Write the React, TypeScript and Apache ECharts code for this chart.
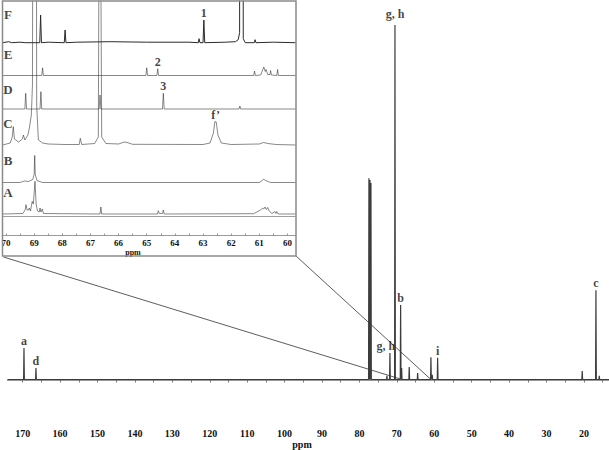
import React, { useEffect, useRef } from "react";
import * as echarts from "echarts";

// ---------- main spectrum (ppm, relative intensity; g,h = 100) ----------
const mainPeakPpm = [169.65, 166.45, 77.46, 77.19, 76.92, 72.65, 71.85, 70.5, 68.99, 68.72, 66.69, 64.44, 60.89, 60.54, 59.1, 20.46, 16.79, 15.9];
const mainPeakHeight = [8.9, 3.2, 56.8, 56.3, 55.4, 1.0, 7.5, 100, 21.0, 3.2, 3.5, 1.8, 6.3, 1.3, 6.1, 2.4, 25.2, 1.0];
const mainLabelNames = ["a", "d", "g, h", "g, h", "b", "i", "c"];
const mainLabelPpm = [169.65, 166.45, 71.85, 70.5, 68.99, 59.1, 16.79];
const mainLabelHeight = [8.9, 3.2, 7.5, 100, 21.0, 6.1, 25.2];
const mainTickLabels = [170, 160, 150, 140, 130, 120, 110, 100, 90, 80, 70, 60, 50, 40, 30, 20];
const mainTicks = [170, 165, 160, 155, 150, 145, 140, 135, 130, 125, 120, 115, 110, 105, 100, 95, 90, 85, 80, 75, 70, 65, 60, 55, 50, 45, 40, 35, 30, 25, 20, 15];

// ---------- inset traces, 70-60 ppm: [ppm, intensity] ----------
const traceF = [[70.12, 0], [69.9, 1], [69.8, 0], [69.5, 0.5], [69.3, 0], [68.8, 0], [68.77, 27.7], [68.74, 0], [68.5, 0.5], [67.93, 0], [67.9, 12.7], [67.87, 0], [67.5, 0.5], [66.3, 1], [65.0, 0.5], [63.5, 0.5], [63.17, 0], [63.14, 4], [63.11, 0], [63.0, 0], [62.97, 22.7], [62.94, 0], [62.2, 0.5], [61.85, 1], [61.75, 3], [61.7, 10], [61.69, 400], [61.59, 400], [61.57, 4], [61.5, 0], [61.18, 0], [61.15, 3], [61.12, 0], [60.5, 0.5], [59.71, 0]];
const traceE = [[70.12, 0], [68.73, 0], [68.7, 7.7], [68.67, 0], [65.03, 0], [65.0, 7.7], [64.97, 0], [64.64, 0], [64.61, 6.7], [64.58, 0], [61.2, 0], [61.17, 4.5], [61.14, 0], [60.95, 0.5], [60.84, 8.5], [60.79, 4], [60.76, 6], [60.7, 1], [60.62, 1], [60.6, 5], [60.57, 0.5], [60.38, 0], [60.35, 6], [60.32, 0], [59.71, 0]];
const traceD = [[70.12, 0], [69.33, 0], [69.3, 15.7], [69.27, 0], [68.79, 0], [68.76, 17.3], [68.73, 0], [66.69, 0], [66.66, 14], [66.63, 0], [64.44, 0], [64.41, 15.7], [64.38, 0], [61.72, 0], [61.69, 3], [61.66, 0], [59.71, 0]];
const traceC = [[70.12, 0], [69.85, 2], [69.78, 8], [69.74, 18.3], [69.7, 6], [69.55, 3], [69.42, 6], [69.38, 10], [69.33, 5], [69.22, 10], [69.17, 17], [69.1, 30], [69.06, 60], [69.04, 400], [68.93, 400], [68.91, 40], [68.85, 5], [68.7, 2], [68.5, 1], [67.9, 0.5], [67.4, 0.5], [67.36, 6.7], [67.31, 0.5], [66.85, 1.5], [66.72, 8], [66.67, 400], [66.6, 8], [66.45, 1.5], [66.0, 1], [65.85, 2.5], [65.78, 3], [65.7, 2.5], [65.5, 0.7], [63.0, 0.5], [62.75, 2], [62.63, 12], [62.58, 23.3], [62.53, 23], [62.47, 10], [62.35, 2], [62.0, 0.5], [61.0, 1], [60.85, 2.5], [60.7, 1.5], [60.4, 0.5], [59.71, 0]];
const traceB = [[70.12, 0], [69.5, 0], [69.35, 1.5], [69.2, 1], [69.05, 3], [69.0, 8], [68.98, 27], [68.96, 8], [68.9, 2], [68.7, 0], [61.0, 0], [60.88, 2.5], [60.84, 3.3], [60.78, 2], [60.6, 0], [59.71, 0]];
const traceA = [[70.12, 0], [69.4, 0.5], [69.32, 4], [69.29, 9.3], [69.25, 4], [69.2, 4], [69.17, 6], [69.13, 3], [69.07, 12.6], [69.03, 10], [68.97, 32.6], [68.93, 10], [68.88, 3], [68.82, 2], [68.79, 6], [68.76, 2], [68.71, 5], [68.67, 0.5], [68.0, 0.3], [66.66, 0], [66.63, 7], [66.6, 0], [64.62, 0], [64.59, 3.3], [64.55, 0.5], [64.44, 0.5], [64.41, 4], [64.38, 0], [61.2, 0.3], [61.09, 2], [60.95, 4], [60.88, 6], [60.84, 5], [60.8, 7], [60.75, 4.5], [60.7, 6.5], [60.65, 3], [60.55, 0.5], [60.45, 2.5], [60.41, 0.5], [60.38, 2.5], [60.33, 0], [59.71, 0]];
const traceNames = ["F", "E", "D", "C", "B", "A"];
const traces = [traceF, traceE, traceD, traceC, traceB, traceA];
const traceOffsets = [192.8, 160, 126.5, 90.5, 53, 21.5];
const traceNameRaise = [28.7, 21.5, 20, 22, 22.5, 22];
const insetLabelNames = ["1", "2", "3", "f\u2019"];
const insetLabelPpm = [62.97, 64.61, 64.41, 62.55];
const insetLabelTrace = [0, 1, 2, 3];
const insetLabelHeight = [22.7, 6.7, 15.7, 23.3];
const insetTickLabels = [70, 69, 68, 67, 66, 65, 64, 63, 62, 61, 60];
const insetTicks = [70, 69.5, 69, 68.5, 68, 67.5, 67, 66.5, 66, 65.5, 65, 64.5, 64, 63.5, 63, 62.5, 62, 61.5, 61, 60.5, 60];

const FONT = "Liberation Serif, Times New Roman, serif";

function buildMainData() {
  const w = 0.1;
  const idx = mainPeakPpm.map((_, i) => i).sort((a, b) => mainPeakPpm[b] - mainPeakPpm[a]);
  const d: number[][] = [[174, 0]];
  idx.forEach((i) => {
    d.push([mainPeakPpm[i] + w, 0], [mainPeakPpm[i], mainPeakHeight[i]], [mainPeakPpm[i] - w, 0]);
  });
  d.push([13.3, 0]);
  return d;
}

export default function App() {
  const ref = useRef<HTMLDivElement>(null);
  useEffect(() => {
    if (!ref.current) return;
    const chart = echarts.init(ref.current, null, { renderer: "svg" });
    const labelStyle = { fontFamily: FONT, fontWeight: "bold", color: "#111" };
    const series: any[] = [
      {
        type: "line",
        xAxisIndex: 0,
        yAxisIndex: 0,
        data: buildMainData(),
        symbol: "none",
        silent: true,
        lineStyle: { color: "#3c3c3c", width: 1.2 },
      },
      {
        type: "scatter",
        xAxisIndex: 0,
        yAxisIndex: 0,
        symbolSize: 0,
        silent: true,
        data: mainLabelNames.map((n, i) => ({
          name: n,
          value: [mainLabelPpm[i], mainLabelHeight[i]],
          label: n === "g, h" && mainLabelHeight[i] < 50 ? { offset: [-4, 0] } : n === "g, h" ? { distance: 5 } : {},
        })),
        label: { show: true, position: "top", distance: 1, formatter: "{b}", fontSize: 12, lineHeight: 12, ...labelStyle },
      },
    ];
    traces.forEach((t, k) => {
      series.push({
        type: "line",
        xAxisIndex: 1,
        yAxisIndex: 1,
        data: t.map((p) => [p[0], p[1] + traceOffsets[k]]),
        symbol: "none",
        silent: true,
        clip: true,
        lineStyle: k === 0 ? { color: "#2a2a2a", width: 1 } : { color: "rgba(40,40,40,0.55)", width: 1 },
      });
    });
    series.push({
      type: "line",
      xAxisIndex: 1,
      yAxisIndex: 1,
      data: [[70.12, 19], [59.71, 19]],
      symbol: "none",
      silent: true,
      lineStyle: { color: "rgba(40,40,40,0.45)", width: 1 },
    });
    series.push({
      type: "scatter",
      xAxisIndex: 1,
      yAxisIndex: 1,
      symbolSize: 0,
      silent: true,
      data: traceNames.map((n, k) => ({ name: n, value: [69.93, traceOffsets[k] + traceNameRaise[k]] })),
      label: { show: true, position: "inside", formatter: "{b}", fontSize: 13, lineHeight: 13, ...labelStyle },
    });
    series.push({
      type: "scatter",
      xAxisIndex: 1,
      yAxisIndex: 1,
      symbolSize: 0,
      silent: true,
      data: insetLabelNames.map((n, i) => ({
        name: n,
        value: [insetLabelPpm[i], traceOffsets[insetLabelTrace[i]] + insetLabelHeight[i]],
      })),
      label: { show: true, position: "top", distance: 1, formatter: "{b}", fontSize: 12, lineHeight: 12, ...labelStyle },
    });

    chart.setOption({
      animation: false,
      backgroundColor: "#fff",
      grid: [
        { left: 7.7, width: 601.3, top: 25, height: 394, containLabel: false, outerBoundsMode: "none" },
        { left: 2.62, width: 293, top: 1, height: 234.5, containLabel: false, outerBoundsMode: "none" },
      ],
      xAxis: [
        {
          type: "value",
          gridIndex: 0,
          min: 13.3,
          max: 174,
          inverse: true,
          splitLine: { show: false },
          axisLine: { show: true, lineStyle: { color: "#777", width: 1.5 } },
          axisTick: { show: true, customValues: mainTicks, length: 3, lineStyle: { color: "#777" } },
          axisLabel: { show: true, customValues: mainTickLabels, margin: 9, fontSize: 10, fontFamily: FONT, fontWeight: "bold", color: "#111" },
        },
        {
          type: "value",
          gridIndex: 1,
          min: 59.71,
          max: 70.12,
          inverse: true,
          splitLine: { show: false },
          axisLine: { show: true, lineStyle: { color: "#999", width: 1 } },
          axisTick: { show: true, inside: true, customValues: insetTicks, length: 2, lineStyle: { color: "#999" } },
          axisLabel: { show: true, customValues: insetTickLabels, margin: 3, fontSize: 9, fontFamily: FONT, fontWeight: "bold", color: "#111" },
        },
      ],
      yAxis: [
        { type: "value", gridIndex: 0, min: -11.15, max: 100, show: false, splitLine: { show: false } },
        { type: "value", gridIndex: 1, min: 0, max: 234.5, show: false, splitLine: { show: false } },
      ],
      series,
    });

    const leftEnd = chart.convertToPixel({ xAxisIndex: 0, yAxisIndex: 0 }, [68.64, 0]) as number[];
    const rightEnd = chart.convertToPixel({ xAxisIndex: 0, yAxisIndex: 0 }, [60.89, 0]) as number[];
    const boxL = 2.5, boxT = 1, boxR = 296, boxB = 256;
    chart.setOption({
      graphic: [
        {
          type: "rect",
          silent: true,
          shape: { x: boxL, y: boxT, width: boxR - boxL, height: boxB - boxT },
          style: { fill: "none", stroke: "#8a8a8a", lineWidth: 1.5 },
          z: 10,
        },
        {
          type: "line",
          silent: true,
          shape: { x1: boxL + 1, y1: boxB + 1, x2: leftEnd[0], y2: leftEnd[1] },
          style: { stroke: "#333", lineWidth: 0.8 },
        },
        {
          type: "line",
          silent: true,
          shape: { x1: boxR, y1: boxB, x2: rightEnd[0], y2: rightEnd[1] },
          style: { stroke: "#333", lineWidth: 0.8 },
        },
        {
          type: "text",
          silent: true,
          x: 133,
          y: 252,
          style: { text: "ppm", font: "bold 8px " + FONT, fill: "#111", align: "center", verticalAlign: "middle" },
        },
        {
          type: "text",
          silent: true,
          x: 302,
          y: 444,
          style: { text: "ppm", font: "bold 10px " + FONT, fill: "#111", align: "center", verticalAlign: "middle" },
        },
      ],
    });
    return () => chart.dispose();
  }, []);
  return <div ref={ref} style={{ position: "absolute", left: 0, top: 0, width: 609, height: 450, background: "#fff" }} />;
}
